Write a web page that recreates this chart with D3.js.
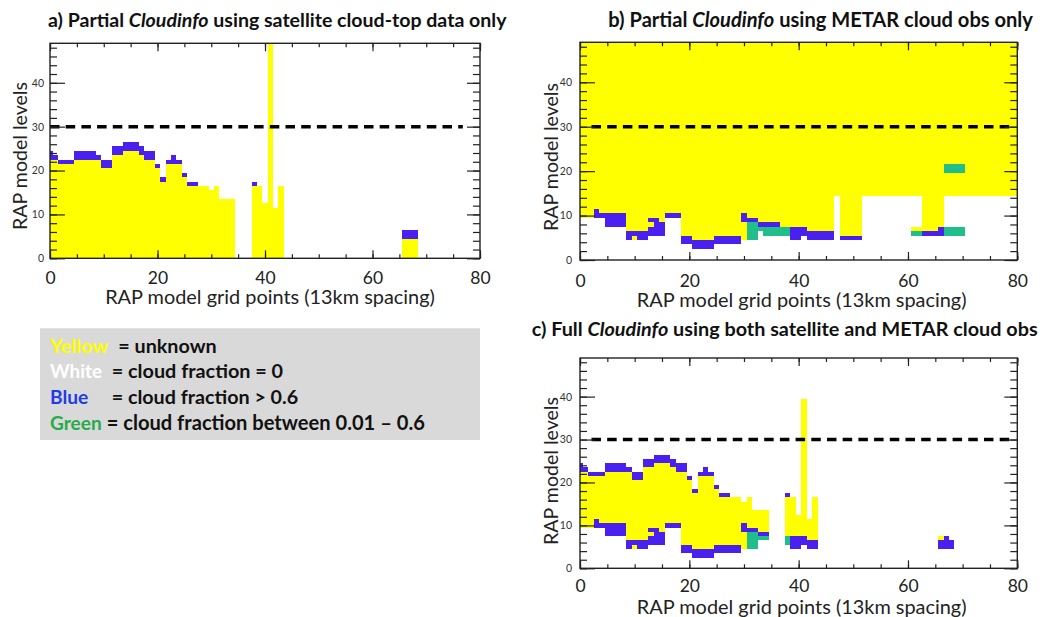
<!DOCTYPE html>
<html><head><meta charset="utf-8">
<script src="https://cdn.jsdelivr.net/npm/d3@7"></script>
<style>
html,body{margin:0;padding:0;background:#fff;}
svg{display:block;font-family:Lato,"Open Sans",sans-serif;}
</style></head><body>
<svg id="chart" width="1059" height="617"></svg>
<script>
// Cloudinfo cross-sections: each run is [firstGridPoint, lastGridPoint, lowLevel, highLevel, category]
// Y = unknown, B = cloud fraction > 0.6, G = cloud fraction 0.01-0.6; uncovered cells stay white (clear)
const satRuns = [
  [0,0,0,22,'Y'],[0,0,23,24,'B'],
  [1,1,0,22,'Y'],[1,1,23,23,'B'],
  [2,4,0,21,'Y'],[2,4,22,22,'B'],
  [5,8,0,22,'Y'],[5,8,23,24,'B'],
  [9,9,0,22,'Y'],[9,9,23,23,'B'],
  [10,11,0,20,'Y'],[10,11,21,22,'B'],
  [12,13,0,23,'Y'],[12,13,24,25,'B'],
  [14,16,0,24,'Y'],[14,16,25,26,'B'],
  [17,17,0,23,'Y'],[17,17,24,25,'B'],
  [18,19,0,22,'Y'],[18,19,23,24,'B'],
  [20,20,0,20,'Y'],[20,20,21,21,'B'],
  [21,21,0,17,'Y'],[21,21,18,18,'B'],
  [22,22,0,21,'Y'],[22,22,22,22,'B'],
  [23,23,0,21,'Y'],[23,23,22,23,'B'],
  [24,24,0,21,'Y'],[24,24,22,22,'B'],
  [25,25,0,18,'Y'],[25,25,19,19,'B'],
  [26,27,0,16,'Y'],[26,27,17,17,'B'],
  [28,29,0,16,'Y'],
  [30,30,0,15,'Y'],
  [31,31,0,16,'Y'],
  [32,34,0,13,'Y'],
  [38,38,0,16,'Y'],[38,38,17,17,'B'],
  [39,39,0,16,'Y'],
  [40,40,0,12,'Y'],
  [41,41,0,49,'Y'],
  [42,42,0,11,'Y'],
  [43,43,0,16,'Y'],
  [66,68,0,4,'Y'],[66,68,5,6,'B']
];

const metarRuns = [
  [0,2,10,49,'Y'],
  [3,3,10,11,'B'],[3,3,12,49,'Y'],
  [4,4,10,10,'B'],[4,4,11,49,'Y'],
  [5,8,8,10,'B'],[5,8,11,49,'Y'],
  [9,9,5,6,'B'],[9,9,7,49,'Y'],
  [10,10,5,5,'Y'],[10,10,6,6,'B'],[10,10,7,49,'Y'],
  [11,12,5,6,'B'],[11,12,7,49,'Y'],
  [13,13,6,7,'B'],[13,13,8,8,'Y'],[13,13,9,9,'B'],[13,13,10,49,'Y'],
  [14,14,6,9,'B'],[14,14,10,49,'Y'],
  [15,15,6,8,'B'],[15,15,9,49,'Y'],
  [16,18,10,10,'B'],[16,18,11,49,'Y'],
  [19,20,4,5,'B'],[19,20,6,49,'Y'],
  [21,24,3,4,'B'],[21,24,5,49,'Y'],
  [25,29,4,5,'B'],[25,29,6,49,'Y'],
  [30,30,5,8,'Y'],[30,30,9,10,'B'],[30,30,11,49,'Y'],
  [31,32,5,8,'G'],[31,32,9,9,'B'],[31,32,10,49,'Y'],
  [33,33,7,7,'G'],[33,33,8,8,'B'],[33,33,9,49,'Y'],
  [34,36,6,7,'G'],[34,36,8,8,'B'],[34,36,9,49,'Y'],
  [37,38,6,7,'G'],[37,38,8,49,'Y'],
  [39,40,5,7,'B'],[39,40,8,49,'Y'],
  [41,41,6,7,'B'],[41,41,8,49,'Y'],
  [42,46,5,6,'B'],[42,46,7,49,'Y'],
  [47,47,15,49,'Y'],
  [48,51,5,5,'B'],[48,51,6,49,'Y'],
  [52,60,15,49,'Y'],
  [61,62,6,6,'G'],[61,62,7,7,'Y'],[61,62,15,49,'Y'],
  [63,65,6,6,'B'],[63,65,7,49,'Y'],
  [66,66,6,7,'B'],[66,66,8,49,'Y'],
  [67,70,6,7,'G'],[67,70,15,19,'Y'],[67,70,20,21,'G'],[67,70,22,49,'Y'],
  [71,80,15,49,'Y']
];

const fullRuns = [
  [0,0,10,22,'Y'],[0,0,23,24,'B'],
  [1,1,10,22,'Y'],[1,1,23,23,'B'],
  [2,2,10,21,'Y'],[2,2,22,22,'B'],
  [3,3,10,11,'B'],[3,3,12,21,'Y'],[3,3,22,22,'B'],
  [4,4,10,10,'B'],[4,4,11,21,'Y'],[4,4,22,22,'B'],
  [5,8,8,10,'B'],[5,8,11,22,'Y'],[5,8,23,24,'B'],
  [9,9,5,6,'B'],[9,9,7,22,'Y'],[9,9,23,23,'B'],
  [10,10,5,5,'Y'],[10,10,6,6,'B'],[10,10,7,20,'Y'],[10,10,21,22,'B'],
  [11,11,5,6,'B'],[11,11,7,20,'Y'],[11,11,21,22,'B'],
  [12,12,5,6,'B'],[12,12,7,23,'Y'],[12,12,24,25,'B'],
  [13,13,6,7,'B'],[13,13,8,8,'Y'],[13,13,9,9,'B'],[13,13,10,23,'Y'],[13,13,24,25,'B'],
  [14,14,6,9,'B'],[14,14,10,24,'Y'],[14,14,25,26,'B'],
  [15,15,6,8,'B'],[15,15,9,24,'Y'],[15,15,25,26,'B'],
  [16,16,10,10,'B'],[16,16,11,24,'Y'],[16,16,25,26,'B'],
  [17,17,10,10,'B'],[17,17,11,23,'Y'],[17,17,24,25,'B'],
  [18,18,10,10,'B'],[18,18,11,22,'Y'],[18,18,23,24,'B'],
  [19,19,4,5,'B'],[19,19,6,22,'Y'],[19,19,23,24,'B'],
  [20,20,4,5,'B'],[20,20,6,20,'Y'],[20,20,21,21,'B'],
  [21,21,3,4,'B'],[21,21,5,17,'Y'],[21,21,18,18,'B'],
  [22,22,3,4,'B'],[22,22,5,21,'Y'],[22,22,22,22,'B'],
  [23,23,3,4,'B'],[23,23,5,21,'Y'],[23,23,22,23,'B'],
  [24,24,3,4,'B'],[24,24,5,21,'Y'],[24,24,22,22,'B'],
  [25,25,4,5,'B'],[25,25,6,18,'Y'],[25,25,19,19,'B'],
  [26,27,4,5,'B'],[26,27,6,16,'Y'],[26,27,17,17,'B'],
  [28,29,4,5,'B'],[28,29,6,16,'Y'],
  [30,30,5,8,'Y'],[30,30,9,10,'B'],[30,30,11,15,'Y'],
  [31,31,5,8,'G'],[31,31,9,9,'B'],[31,31,10,16,'Y'],
  [32,32,5,8,'G'],[32,32,9,9,'B'],[32,32,10,13,'Y'],
  [33,34,7,7,'G'],[33,34,8,8,'B'],[33,34,9,13,'Y'],
  [38,38,6,7,'G'],[38,38,8,16,'Y'],[38,38,17,17,'B'],
  [39,39,5,7,'B'],[39,39,8,16,'Y'],
  [40,40,5,7,'B'],[40,40,8,12,'Y'],
  [41,41,6,7,'B'],[41,41,8,39,'Y'],
  [42,42,5,6,'B'],[42,42,7,11,'Y'],
  [43,43,5,6,'B'],[43,43,7,16,'Y'],
  [66,66,5,6,'B'],[66,66,7,7,'Y'],
  [67,67,5,7,'B'],
  [68,68,5,6,'B']
];

const xTicks = [0, 20, 40, 60, 80];
const yTicks = [0, 10, 20, 30, 40];
const xDomain = [0, 80];
const yDomain = [0, 49];
const refLevel = 30;               // dashed reference level
const xLabel = 'RAP model grid points (13km spacing)';
const yLabel = 'RAP model levels';

const titleParts = [
  [['a) Partial ', false], ['Cloudinfo', true], [' using satellite cloud-top data only', false]],
  [['b) Partial ', false], ['Cloudinfo', true], [' using METAR cloud obs only', false]],
  [['c) Full ', false], ['Cloudinfo', true], [' using both satellite and METAR cloud obs', false]]
];

const legendNames = ['Yellow', 'White', 'Blue', 'Green'];
const legendTexts = ['= unknown', '= cloud fraction = 0', '= cloud fraction > 0.6', '= cloud fraction between 0.01 \u2013 0.6'];

const fillOf = {Y: '#ffff00', B: '#4a20f0', G: '#20be8a'};
const legendColors = ['#ffff00', '#ffffff', '#1e3ce8', '#26ab48'];

const svg = d3.select('#chart');

// size a text element so it spans the given width
function fitWidth(sel, w, base) {
  sel.attr('font-size', base);
  const len = sel.node().getComputedTextLength();
  sel.attr('font-size', base * w / len);
}

const layout = [
  {runs: satRuns,   left: 50,  right: 480,    top: 43.3, bottom: 258.3, gap: 6, pad: 13.5, xtY: 304.2, xtX: 270,   ytX: 27,  ytY: 156, dash: [0, 76.8],
   title: {x: 48, w: 459, y: 26.7}},
  {runs: metarRuns, left: 580, right: 1017.3, top: 42.3, bottom: 260,   gap: 8, pad: 14.5, xtY: 306.5, xtX: 801.7, ytX: 558, ytY: 157, dash: [2.1, 79.6],
   title: {x: 608.3, w: 424.7, y: 26.7}},
  {runs: fullRuns,  left: 580, right: 1017.3, top: 358,  bottom: 568.3, gap: 8, pad: 11.5, xtY: 613.8, xtX: 801.7, ytX: 558, ytY: 471, dash: [2.1, 79.6],
   title: {x: 531.7, w: 506.3, y: 335.5}}
];

layout.forEach((p, i) => {
  const x = d3.scaleLinear().domain(xDomain).range([p.left, p.right]);
  const y = d3.scaleLinear().domain(yDomain).range([p.bottom, p.top]);
  const g = svg.append('g');

  const clipId = 'clip' + i;
  svg.append('clipPath').attr('id', clipId).append('rect')
    .attr('x', p.left).attr('y', p.top)
    .attr('width', p.right - p.left).attr('height', p.bottom - p.top);

  // grid cells, each centred on its grid point and model level
  g.append('g').attr('clip-path', `url(#${clipId})`)
    .selectAll('rect').data(p.runs).join('rect')
    .attr('x', d => x(d[0] - 0.5))
    .attr('width', d => x(d[1] + 0.5) - x(d[0] - 0.5))
    .attr('y', d => y(d[3] + 0.5))
    .attr('height', d => y(d[2] - 0.5) - y(d[3] + 0.5))
    .attr('fill', d => fillOf[d[4]])
    .attr('shape-rendering', 'crispEdges');

  // dashed reference level
  g.append('line')
    .attr('x1', x(p.dash[0])).attr('x2', x(p.dash[1]))
    .attr('y1', y(refLevel)).attr('y2', y(refLevel))
    .attr('stroke', '#000').attr('stroke-width', 3.5)
    .attr('stroke-dasharray', '9.5,6.2');

  const styleAxis = a => {
    a.select('.domain').remove();
    a.selectAll('line').attr('stroke', '#222').attr('stroke-width', 1.2);
  };

  // left axis: labelled majors and minor ticks every 2 levels
  g.append('g').attr('transform', `translate(${p.left},0)`)
    .call(d3.axisLeft(y).tickValues(d3.range(0, 49, 2)).tickSize(-7).tickFormat(''))
    .call(styleAxis);
  const la = g.append('g').attr('transform', `translate(${p.left},0)`)
    .call(d3.axisLeft(y).tickValues(yTicks).tickSize(-15).tickPadding(p.gap).tickFormat(d3.format('d')))
    .call(styleAxis);
  la.selectAll('text').attr('font-size', 10.5).attr('fill', '#333').attr('font-family', 'Lato, sans-serif');

  // right axis
  g.append('g').attr('transform', `translate(${p.right},0)`)
    .call(d3.axisRight(y).tickValues(d3.range(0, 49, 2)).tickSize(-7).tickFormat(''))
    .call(styleAxis);
  g.append('g').attr('transform', `translate(${p.right},0)`)
    .call(d3.axisRight(y).tickValues(yTicks).tickSize(-13).tickFormat(''))
    .call(styleAxis);

  // top axis
  g.append('g').attr('transform', `translate(0,${p.top})`)
    .call(d3.axisTop(x).tickValues(d3.range(0, 81, 5)).tickSize(-4).tickFormat(''))
    .call(styleAxis);
  g.append('g').attr('transform', `translate(0,${p.top})`)
    .call(d3.axisTop(x).tickValues(xTicks).tickSize(-8).tickFormat(''))
    .call(styleAxis);

  // bottom axis
  g.append('g').attr('transform', `translate(0,${p.bottom})`)
    .call(d3.axisBottom(x).tickValues(d3.range(0, 81, 5)).tickSize(-4).tickFormat(''))
    .call(styleAxis);
  const ba = g.append('g').attr('transform', `translate(0,${p.bottom})`)
    .call(d3.axisBottom(x).tickValues(xTicks).tickSize(-8).tickPadding(p.pad).tickFormat(d3.format('d')))
    .call(styleAxis);
  ba.selectAll('text').attr('font-size', 17.5).attr('fill', '#222').attr('font-family', 'Lato, sans-serif');

  // frame
  g.append('rect')
    .attr('x', p.left).attr('y', p.top)
    .attr('width', p.right - p.left).attr('height', p.bottom - p.top)
    .attr('fill', 'none').attr('stroke', '#222').attr('stroke-width', 1.4);

  // axis titles
  const xt = g.append('text').attr('x', p.xtX).attr('y', p.xtY)
    .attr('text-anchor', 'middle').attr('fill', '#222').text(xLabel);
  fitWidth(xt, 330, 19);
  const yt = g.append('text')
    .attr('transform', `translate(${p.ytX},${p.ytY}) rotate(-90)`)
    .attr('text-anchor', 'middle').attr('fill', '#222').text(yLabel);
  fitWidth(yt, 148, 20);

  // panel title
  const t = svg.append('text').attr('x', p.title.x).attr('y', p.title.y)
    .attr('font-weight', 'bold').attr('fill', '#111');
  titleParts[i].forEach(([s, it]) => {
    t.append('tspan').attr('font-style', it ? 'italic' : 'normal').text(s);
  });
  fitWidth(t, p.title.w, 18);
});

// legend box
const lg = svg.append('g');
lg.append('rect').attr('x', 40).attr('y', 328.3).attr('width', 440).attr('height', 111.7).attr('fill', '#d9d9d9');
const rowY = [352.7, 378.3, 404.3, 430];
const nameW = [58.3, 52, 38.3, 51.7];
const textX = [118.3, 111.7, 111.7, 106.7];
const textW = [98.4, 171.6, 186.6, 318.3];
legendNames.forEach((n, k) => {
  const a = lg.append('text').attr('x', 50).attr('y', rowY[k]).attr('font-weight', 'bold')
    .attr('fill', legendColors[k]).text(n);
  fitWidth(a, nameW[k], 19);
  const b = lg.append('text').attr('x', textX[k]).attr('y', rowY[k]).attr('font-weight', 'bold')
    .attr('fill', '#111').text(legendTexts[k]);
  fitWidth(b, textW[k], 19);
});
</script></body></html>
